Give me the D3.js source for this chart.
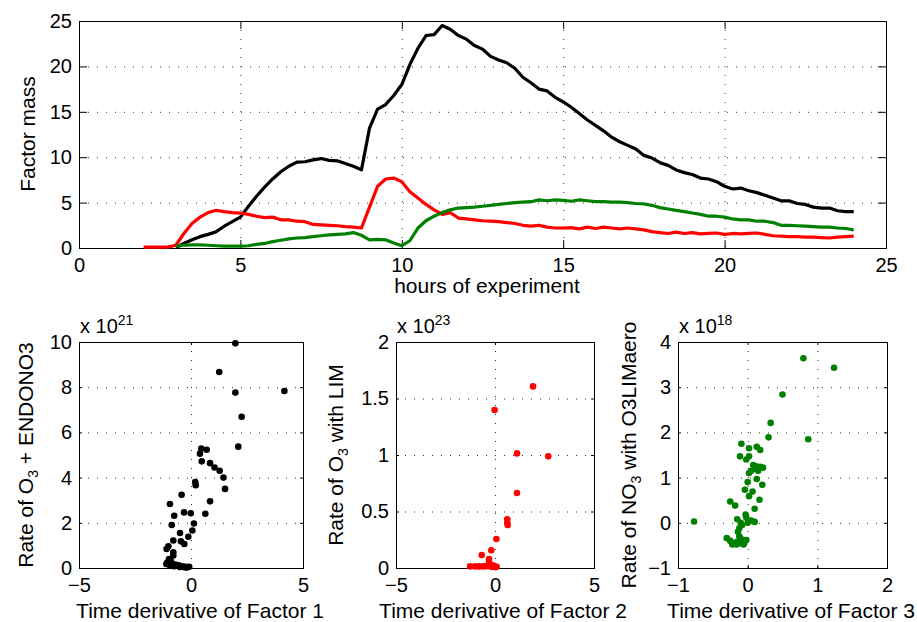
<!DOCTYPE html>
<html>
<head>
<meta charset="utf-8">
<script src="https://cdn.jsdelivr.net/npm/d3@7"></script>
<style>
  body { margin: 0; background: #fff; }
  svg text { font-family: "Liberation Sans", Arial, Helvetica, sans-serif; fill: #000; }
</style>
</head>
<body>
<svg id="chart" width="917" height="622"></svg>
<script>
// time axis of the experiment (hours)
const hours = [2, 2.25, 2.5, 2.75, 3, 3.25, 3.5, 3.75, 4, 4.25, 4.5, 4.75, 5, 5.25, 5.5, 5.75,
  6, 6.25, 6.5, 6.75, 7, 7.25, 7.5, 7.75, 8, 8.25, 8.5, 8.75, 9, 9.25, 9.5, 9.75,
  10, 10.25, 10.5, 10.75, 11, 11.25, 11.5, 11.75, 12, 12.25, 12.5, 12.75, 13, 13.25, 13.5, 13.75,
  14, 14.25, 14.5, 14.75, 15, 15.25, 15.5, 15.75, 16, 16.25, 16.5, 16.75, 17, 17.25, 17.5, 17.75,
  18, 18.25, 18.5, 18.75, 19, 19.25, 19.5, 19.75, 20, 20.25, 20.5, 20.75, 21, 21.25, 21.5, 21.75,
  22, 22.25, 22.5, 22.75, 23, 23.25, 23.5, 23.75, 24];

// factor mass, one value per hour entry (null = not measured)
const factor1 = [null, null, null, null, 0.05, 0.5, 0.9, 1.25, 1.5, 1.8, 2.4, 2.9, 3.4, 4.6, 5.7, 6.7,
  7.6, 8.4, 9.0, 9.45, 9.5, 9.7, 9.85, 9.65, 9.6, 9.3, 9.0, 8.6, 13.2, 15.3, 15.8, 16.8,
  18.0, 20.2, 22.0, 23.4, 23.5, 24.5, 24.1, 23.4, 23.0, 22.3, 21.9, 21.1, 20.7, 20.4, 19.8, 18.8,
  18.2, 17.5, 17.3, 16.6, 16.1, 15.5, 14.8, 14.1, 13.5, 12.9, 12.2, 11.7, 11.3, 10.9, 10.2, 9.9,
  9.4, 9.1, 8.6, 8.3, 8.1, 7.7, 7.6, 7.3, 6.8, 6.5, 6.6, 6.3, 6.1, 5.8, 5.5, 5.2,
  5.2, 4.9, 4.8, 4.5, 4.4, 4.4, 4.1, 4.0, 4.0];
const factor2 = [0.1, 0.1, 0.1, 0.1, 0.3, 1.6, 2.7, 3.4, 3.9, 4.15, 4.0, 3.9, 3.85, 3.7, 3.5, 3.35,
  3.4, 3.1, 3.1, 2.95, 2.9, 2.6, 2.55, 2.5, 2.45, 2.35, 2.3, 2.2, 4.5, 6.8, 7.6, 7.7,
  7.3, 6.2, 5.5, 4.8, 4.2, 3.7, 3.9, 3.3, 3.2, 3.1, 3.0, 2.95, 2.9, 2.8, 2.7, 2.5,
  2.4, 2.5, 2.3, 2.2, 2.2, 2.25, 2.1, 2.3, 2.15, 2.3, 2.2, 2.1, 2.2, 2.1, 2.0, 1.8,
  1.7, 1.6, 1.75, 1.6, 1.7, 1.55, 1.6, 1.65, 1.5, 1.6, 1.55, 1.6, 1.65, 1.5, 1.35, 1.3,
  1.25, 1.25, 1.2, 1.2, 1.15, 1.1, 1.2, 1.25, 1.3];
const factor3 = [null, null, null, null, 0.2, 0.3, 0.35, 0.35, 0.3, 0.25, 0.2, 0.2, 0.2, 0.25, 0.4, 0.5,
  0.7, 0.85, 1.0, 1.1, 1.15, 1.25, 1.35, 1.45, 1.5, 1.55, 1.7, 1.4, 0.9, 0.95, 0.9, 0.55,
  0.25, 0.8, 2.2, 3.0, 3.5, 3.9, 4.2, 4.4, 4.45, 4.5, 4.6, 4.7, 4.8, 4.9, 5.0, 5.05,
  5.1, 5.3, 5.2, 5.3, 5.25, 5.15, 5.3, 5.2, 5.1, 5.1, 5.05, 5.05, 5.0, 4.9, 4.85, 4.7,
  4.45, 4.3, 4.15, 4.0, 3.85, 3.7, 3.5, 3.5, 3.4, 3.2, 3.1, 3.1, 2.95, 2.95, 2.8, 2.5,
  2.5, 2.45, 2.4, 2.35, 2.3, 2.3, 2.2, 2.15, 2.0];

// scatter 1: d(Factor 1)/dt vs rate of O3 + ENDONO3 (x 1e21)
const dF1 = [1.98, 1.26, 1.98, 4.17, 2.26, 2.11, 0.46, 0.70, 0.40, 0.48, 0.85, 1.05, 1.28, 1.45, 1.52,
  0.19, 0.21, -0.42, -0.94, 0.85, -0.31, -0.75, -0.01, 0.64, -0.86, 0.13, 0.06, -0.49, -0.12,
  -0.79, -0.45, -0.30, -1.01, -1.09, -0.79, -0.79, -0.98, -1.05, -1.10, -0.90, -0.85, -0.70,
  -0.62, -0.55, -0.45, -0.35, -0.25, -0.15, -0.08, -0.95, -0.75, -0.50, -0.30, -0.20];
const rate1 = [9.94, 8.67, 7.76, 7.83, 6.69, 5.37, 5.29, 5.23, 5.06, 4.72, 4.64, 4.45, 4.30, 4.00, 3.50,
  3.80, 3.66, 3.24, 2.83, 2.95, 2.46, 2.31, 2.42, 2.40, 1.90, 1.97, 1.66, 1.55, 1.38,
  1.22, 1.18, 1.06, 0.96, 0.84, 0.70, 0.55, 0.40, 0.25, 0.18, 0.30, 0.20, 0.15,
  0.10, 0.12, 0.08, 0.06, 0.05, 0.04, 0.05, 0.12, 0.08, 0.04, 0.03, 0.02];

// scatter 2: d(Factor 2)/dt vs rate of O3 with LIM (x 1e23)
const dF2 = [1.92, -0.02, 1.11, 2.69, 1.11, 0.62, 0.62, 0.64, 0.07, -0.19, -0.67, -0.30, -0.30, -0.25,
  -1.26, -1.00, -0.80, -0.60, -0.45, -0.35, -0.20, -0.10, 0.00, 0.08, -0.15, -0.05];
const rate2 = [1.607, 1.398, 1.014, 0.988, 0.664, 0.43, 0.40, 0.38, 0.257, 0.156, 0.115, 0.08, 0.05, 0.03,
  0.014, 0.014, 0.014, 0.014, 0.016, 0.02, 0.01, 0.012, 0.008, 0.01, 0.025, 0.02];

// scatter 3: d(Factor 3)/dt vs rate of NO3 with O3LIMaero (x 1e18)
const dF3 = [0.80, 1.24, 0.50, 0.33, 0.30, 0.87, -0.09, 0.02, 0.13, 0.18, -0.11, 0.02, -0.02, 0.08, 0.12,
  0.18, 0.10, 0.22, 0.15, 0.05, 0.02, 0.13, 0.00, 0.21, -0.04, 0.07, 0.02, 0.17, -0.25, -0.18,
  0.10, -0.03, -0.02, 0.05, 0.10, -0.15, -0.10, 0.00, -0.77, -0.30, -0.25, -0.20, -0.15, -0.12,
  -0.10, -0.05, -0.02, -0.14, -0.12, -0.08, -0.16, -0.06, -0.22, -0.10];
const rate3 = [3.64, 3.43, 2.84, 2.21, 1.89, 1.85, 1.75, 1.65, 1.68, 1.61, 1.47, 1.47, 1.40, 1.28, 1.25,
  1.24, 1.20, 1.22, 1.15, 1.15, 1.10, 0.97, 0.90, 0.84, 0.73, 0.69, 0.59, 0.51, 0.47, 0.38,
  0.31, 0.18, 0.12, 0.05, 0.02, 0.08, 0.00, 0.00, 0.03, -0.34, -0.40, -0.45, -0.42, -0.30,
  -0.45, -0.45, -0.38, -0.20, -0.12, -0.05, -0.48, -0.48, -0.48, -0.35];

const svg = d3.select("#chart");
const fmt = d3.format("~g");

function panel(box, xDom, yDom, xTicks, yTicks, tickLen) {
  const x = d3.scaleLinear().domain(xDom).range([box.left, box.right]);
  const y = d3.scaleLinear().domain(yDom).range([box.bottom, box.top]);
  const g = svg.append("g");

  // dotted grid
  const grid = g.append("g").attr("stroke", "#333").attr("stroke-width", 1).attr("stroke-dasharray", "1 8");
  grid.selectAll(".gx").data(xTicks.slice(1, -1)).join("line")
    .attr("x1", d => x(d) + 0.5).attr("x2", d => x(d) + 0.5)
    .attr("y1", box.top).attr("y2", box.bottom);
  grid.selectAll(".gy").data(yTicks.slice(1, -1)).join("line")
    .attr("y1", d => y(d) + 0.5).attr("y2", d => y(d) + 0.5)
    .attr("x1", box.left).attr("x2", box.right);

  const axes = [
    [d3.axisBottom(x).tickValues(xTicks).tickFormat(fmt).tickPadding(10), `translate(0,${box.bottom})`],
    [d3.axisTop(x).tickValues(xTicks).tickFormat(""), `translate(0,${box.top})`],
    [d3.axisLeft(y).tickValues(yTicks).tickFormat(fmt).tickPadding(7), `translate(${box.left},0)`],
    [d3.axisRight(y).tickValues(yTicks).tickFormat(""), `translate(${box.right},0)`]
  ];
  axes.forEach(([ax, tr]) => {
    const a = g.append("g").attr("transform", tr)
      .call(ax.tickSizeInner(-tickLen).tickSizeOuter(0));
    a.select(".domain").remove();
    a.selectAll("line").attr("stroke", "#000");
    a.selectAll("text").attr("font-size", 20).attr("fill", "#000")
      .attr("font-family", '"Liberation Sans", Arial, sans-serif');
  });

  g.append("rect")
    .attr("x", box.left + 0.5).attr("y", box.top + 0.5)
    .attr("width", box.right - box.left).attr("height", box.bottom - box.top)
    .attr("fill", "none").attr("stroke", "#000").attr("stroke-width", 1);
  return { x, y, g };
}

// ---- top: factor mass time series
const massAx = panel({ left: 79, right: 886, top: 21, bottom: 248 }, [0, 25], [0, 25],
  [0, 5, 10, 15, 20, 25], [0, 5, 10, 15, 20, 25], 8);

const series = [
  { values: factor1, color: "#000000" },
  { values: factor2, color: "#ff0000" },
  { values: factor3, color: "#008000" }
];
series.forEach(s => {
  const line = d3.line()
    .defined((d, i) => s.values[i] != null)
    .x(d => massAx.x(d))
    .y((d, i) => massAx.y(s.values[i]));
  massAx.g.append("path")
    .datum(hours)
    .attr("d", line)
    .attr("fill", "none")
    .attr("stroke", s.color)
    .attr("stroke-width", 3.2)
    .attr("stroke-linejoin", "round");
});

svg.append("text").attr("x", 487).attr("y", 293).attr("text-anchor", "middle")
  .attr("font-size", 21).text("hours of experiment");
svg.append("text").attr("transform", "translate(35,134) rotate(-90)").attr("text-anchor", "middle")
  .attr("font-size", 21).text("Factor mass");

// ---- bottom scatter panels
const scatters = [
  { box: { left: 79, right: 303, top: 342, bottom: 568 }, xDom: [-5, 5], yDom: [0, 10],
    xTicks: [-5, 0, 5], yTicks: [0, 2, 4, 6, 8, 10], xs: dF1, ys: rate1, color: "#000000",
    exp: "21", xlab: "Time derivative of Factor 1", labX: 200, ylabX: 33,
    ylab: ["Rate of O", "3", " + ENDONO3"] },
  { box: { left: 396, right: 594, top: 342, bottom: 568 }, xDom: [-5, 5], yDom: [0, 2],
    xTicks: [-5, 0, 5], yTicks: [0, 0.5, 1, 1.5, 2], xs: dF2, ys: rate2, color: "#ff0000",
    exp: "23", xlab: "Time derivative of Factor 2", labX: 503, ylabX: 343,
    ylab: ["Rate of O", "3", " with LIM"] },
  { box: { left: 678, right: 887, top: 342, bottom: 568 }, xDom: [-1, 2], yDom: [-1, 4],
    xTicks: [-1, 0, 1, 2], yTicks: [-1, 0, 1, 2, 3, 4], xs: dF3, ys: rate3, color: "#008000",
    exp: "18", xlab: "Time derivative of Factor 3", labX: 791, ylabX: 636,
    ylab: ["Rate of NO", "3", " with O3LIMaero"] }
];

scatters.forEach(p => {
  const pn = panel(p.box, p.xDom, p.yDom, p.xTicks, p.yTicks, 3);
  pn.g.append("g").selectAll("circle")
    .data(p.xs.map((v, i) => [v, p.ys[i]]))
    .join("circle")
    .attr("cx", d => pn.x(d[0]))
    .attr("cy", d => pn.y(d[1]))
    .attr("r", 3.3)
    .attr("fill", p.color);

  // exponent label
  const ex = svg.append("text").attr("x", p.box.left + 1).attr("y", 333).attr("font-size", 20);
  ex.append("tspan").text("x 10");
  ex.append("tspan").attr("font-size", 14).attr("dy", -8).text(p.exp);

  svg.append("text").attr("x", p.labX).attr("y", 618).attr("text-anchor", "middle")
    .attr("font-size", 21).text(p.xlab);

  const cy = (p.box.top + p.box.bottom) / 2;
  const yl = svg.append("text")
    .attr("transform", `translate(${p.ylabX},${cy}) rotate(-90)`)
    .attr("text-anchor", "middle").attr("font-size", 21);
  yl.append("tspan").text(p.ylab[0]);
  yl.append("tspan").attr("font-size", 14).attr("dy", 5).text(p.ylab[1]);
  yl.append("tspan").attr("dy", -5).text(p.ylab[2]);
});
</script>
</body>
</html>
